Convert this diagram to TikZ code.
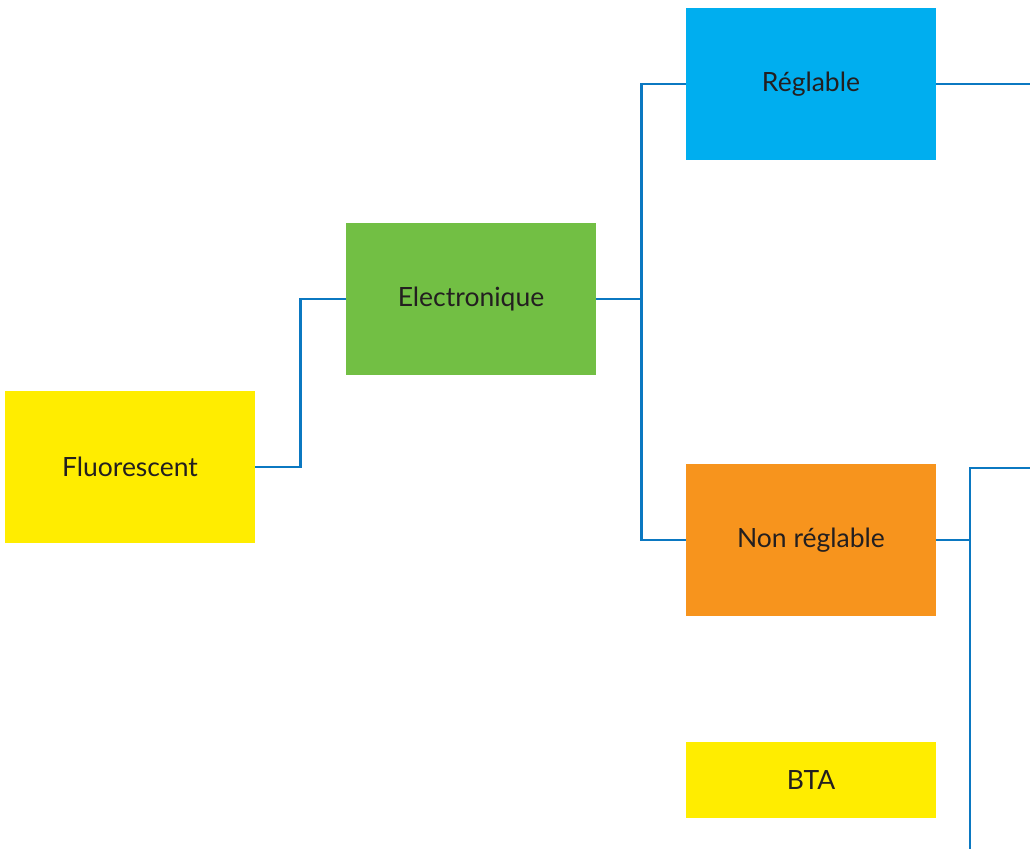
\documentclass[tikz,border=0pt]{standalone}
\usepackage{fontspec}
\setmainfont{Lato}
\usetikzlibrary{positioning}
\definecolor{lampyellow}{HTML}{FFED00}
\definecolor{lampgreen}{HTML}{72BF44}
\definecolor{lampcyan}{HTML}{00AEEF}
\definecolor{lamporange}{HTML}{F7941D}
\definecolor{linkblue}{HTML}{0B78C1}
\definecolor{inkgray}{HTML}{231F20}
\tikzset{
  typebox/.style={
    draw=none,
    minimum width=250pt,
    minimum height=152pt,
    inner sep=0pt,
    align=center,
    text=inkgray,
    font=\fontsize{26.5}{30}\selectfont
  },
  lowbox/.style={typebox,minimum height=76pt},
  link/.style={draw=linkblue,line width=2.6pt}
}

\begin{document}
\begin{tikzpicture}[x=1pt,y=-1pt]
  \useasboundingbox (0,0) rectangle (1030,849);

  \node[typebox,fill=lampyellow] (fluo)    at (130,467) {Fluorescent};
  \node[typebox,fill=lampgreen]  (electro) at (471,299) {Electronique};
  \node[typebox,fill=lampcyan]   (regl)    at (811,84)  {Réglable};
  \node[typebox,fill=lamporange] (nonregl) at (811,540) {Non réglable};
  \node[lowbox,fill=lampyellow]  (bta)     at (811,780) {BTA};

  % free ends at the picture edge
  \coordinate (reglout)  at (1030,84);
  \coordinate (nonupper) at (1030,468);
  \coordinate (nonlower) at (970,849);

  \draw[link] (fluo.east) -- ++(45,0) |- (electro.west);
  \draw[link] (electro.east) -- ++(45,0) coordinate (split) |- (regl.west);
  \draw[link] (split) |- (nonregl.west);
  \draw[link] (regl.east) -- (reglout);
  \draw[link] (nonregl.east) -| (nonlower);
  \draw[link] (nonupper) -| (nonlower);
\end{tikzpicture}
\end{document}
